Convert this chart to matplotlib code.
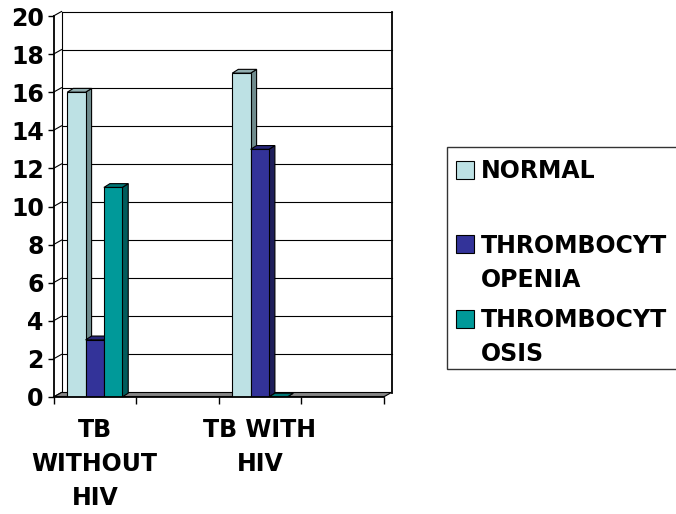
import numpy as np
import matplotlib.pyplot as plt
from matplotlib.patches import Polygon, Rectangle

# data
categories = ["TB\nWITHOUT\nHIV", "", "TB WITH\nHIV", ""]
normal = [16, np.nan, 17, np.nan]
thrombocytopenia = [3, np.nan, 13, np.nan]
thrombocytosis = [11, np.nan, 0, np.nan]
series_labels = ["NORMAL", "THROMBOCYT\nOPENIA", "THROMBOCYT\nOSIS"]
yticks = list(range(0, 21, 2))

# front / side / top colours per series
face_colors = [("#BDE1E4", "#6F8B8D", "#92AEB0"),
               ("#333399", "#1E1E5A", "#27277A"),
               ("#009999", "#005C5C", "#007777")]

W, H = 676, 514
fig = plt.figure(figsize=(W / 100, H / 100), dpi=100)
plt.rcParams['font.family'] = ['DejaVu Sans']
plt.rcParams['font.weight'] = 'bold'
FS = 17

# axes: front plane, px 53.5 -> category 0, 82.5 px per category, 19.05 px per unit
x0_px, y0_px = 53.5, 397
ax_right, ax_top = 394, 8
ax = fig.add_axes([x0_px / W, 1 - y0_px / H, (ax_right - x0_px) / W, (y0_px - ax_top) / H])
ax.set_xlim(0, (ax_right - x0_px) / 82.5)
ax.set_ylim(0, (y0_px - ax_top) / 19.05)

n = len(categories)
dx, dy = 8 / 82.5, 4.5 / 19.05        # wall depth
bdx, bdy = 6 / 82.5, 3.8 / 19.05      # bar depth
ymax = 20
lw = 0.8

# back wall + left wall grid
for v in yticks:
    ax.plot([0, dx], [v, v + dy], color='black', lw=lw, zorder=1, clip_on=False)
    if v > 0:
        ax.plot([dx, n + dx], [v + dy, v + dy], color='black', lw=lw, zorder=1,
                clip_on=False)
ax.plot([dx, dx], [dy, ymax + dy], color='black', lw=lw, zorder=1, clip_on=False)
ax.plot([n + dx, n + dx], [dy, ymax + dy], color='black', lw=1.3, zorder=1,
        clip_on=False)

# floor
ax.add_patch(Polygon([(0, 0), (n, 0), (n + dx, dy), (dx, dy)], closed=True,
                     facecolor='#858585', edgecolor='black', lw=lw, zorder=2))
ax.plot([0, n], [0, 0], color='black', lw=1.5, zorder=2)

# bars
bar_w = 0.222
start = (1 - 3 * bar_w) / 2
z = 3
for i in range(n):
    for s, vals in enumerate([normal, thrombocytopenia, thrombocytosis]):
        v = vals[i]
        if np.isnan(v):
            continue
        front, side, top = face_colors[s]
        xa = i + start + s * bar_w
        xb = xa + bar_w
        ax.add_patch(Polygon([(xb, 0), (xb + bdx, bdy), (xb + bdx, v + bdy), (xb, v)],
                             closed=True, facecolor=side, edgecolor='black', lw=lw, zorder=z))
        ax.add_patch(Polygon([(xa, v), (xb, v), (xb + bdx, v + bdy), (xa + bdx, v + bdy)],
                             closed=True, facecolor=top, edgecolor='black', lw=lw, zorder=z))
        if v > 0:
            ax.add_patch(Rectangle((xa, 0), bar_w, v, facecolor=front,
                                   edgecolor='black', lw=lw, zorder=z))
        z += 1

# axes lines and ticks
for sp in ['top', 'right']:
    ax.spines[sp].set_visible(False)
ax.spines['left'].set_bounds(0, ymax)
ax.spines['bottom'].set_bounds(0, n)
ax.spines['left'].set_linewidth(1.3)
ax.spines['bottom'].set_linewidth(1.3)
ax.spines['left'].set_zorder(20)
ax.spines['bottom'].set_zorder(20)
ax.set_yticks(yticks)
ax.set_yticklabels([str(t) for t in yticks], fontsize=FS, fontweight='bold')
ax.tick_params(axis='y', direction='out', length=4, width=1, pad=3)
ax.set_xticks(np.arange(n + 1))
ax.set_xticklabels([])
ax.tick_params(axis='x', which='major', direction='out', length=5, width=1)
ax.set_xticks(np.arange(n) + 0.5, minor=True)
ax.set_xticklabels(categories, minor=True, fontsize=FS, fontweight='bold',
                   linespacing=1.52)
ax.tick_params(axis='x', which='minor', length=0, pad=15)
ax.patch.set_alpha(0)

# legend (Excel-style, box runs past the right edge)
def fx(px):
    return px / W

def fy(py):
    return 1 - py / H

fig.add_artist(Rectangle((fx(447), fy(369)), fx(760) - fx(447), fy(147) - fy(369),
                         transform=fig.transFigure, facecolor='white',
                         edgecolor='#333333', lw=1.0))
entry_y = [171, 263, 337]
marker_y = [170, 244, 319]
for k, lab in enumerate(series_labels):
    fig.add_artist(Rectangle((fx(456), fy(marker_y[k] + 9)), fx(18), 18 / H,
                             transform=fig.transFigure, facecolor=face_colors[k][0],
                             edgecolor='black', lw=0.8))
    fig.text(fx(481), fy(entry_y[k]), lab, fontsize=FS, fontweight='bold',
             ha='left', va='center', linespacing=1.52)

fig.savefig('out.png', dpi=100)
